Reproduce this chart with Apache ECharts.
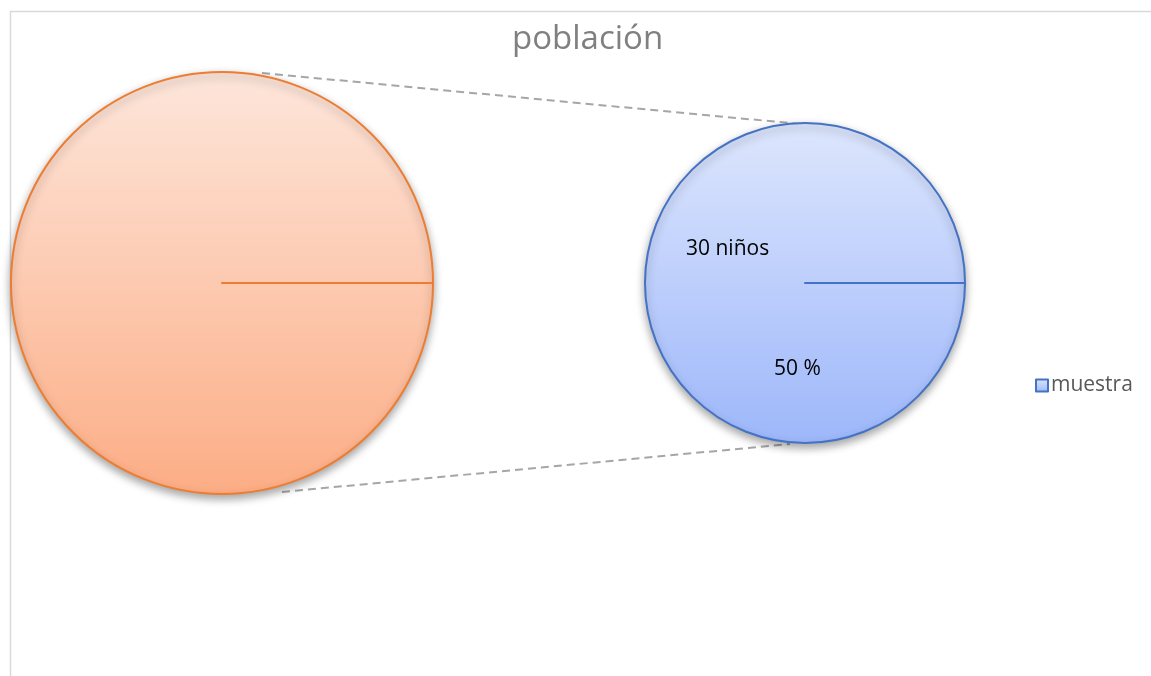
<!DOCTYPE html>
<html>
<head>
<meta charset="utf-8">
<script src="https://cdn.jsdelivr.net/npm/echarts@6/dist/echarts.min.js"></script>
<style>
html,body{margin:0;padding:0;background:#fff;}
#main{width:1151px;height:676px;}
</style>
</head>
<body>
<div id="main"></div>
<script>
// ---- data ----
const chartTitle = 'población';
const categories = ['muestra'];
const primaryNames = ['Otro', ''];
const primaryValues = [30, 0];
const secondaryNames = ['muestra', ''];
const secondaryValues = [30, 0];
const dataLabels = ['30 niños', '50 %'];

const chart = echarts.init(document.getElementById('main'), null, {renderer: 'canvas'});

const orangeFill = new echarts.graphic.LinearGradient(0, 0, 0, 1, [
  {offset: 0, color: '#fde6db'}, {offset: 1, color: '#fcad85'}
]);
const blueFill = new echarts.graphic.LinearGradient(0, 0, 0, 1, [
  {offset: 0, color: '#dde6fd'}, {offset: 1, color: '#9db7fa'}
]);

const shadow = {shadowBlur: 8, shadowOffsetY: 4, shadowColor: 'rgba(0,0,0,0.35)'};

const primaryData = primaryNames.map((n, i) => ({
  name: n, value: primaryValues[i],
  itemStyle: Object.assign({color: orangeFill, borderColor: '#ed7d31', borderWidth: 2}, i === 0 ? shadow : {})
}));
const secondaryData = secondaryNames.map((n, i) => ({
  name: n, value: secondaryValues[i],
  itemStyle: Object.assign({color: blueFill, borderColor: '#4472c4', borderWidth: 2}, i === 0 ? shadow : {})
}));

const dashStyle = {stroke: '#a6a6a6', lineWidth: 2, lineDash: [8, 5]};

chart.setOption({
  animation: false,
  backgroundColor: '#ffffff',
  title: {
    text: chartTitle, left: 507, top: 18,
    textStyle: {fontFamily: 'Open Sans', fontWeight: 'normal', fontSize: 33, color: '#808080'}
  },
  legend: {
    data: categories.map(c => ({name: c, itemStyle: {color: blueFill, borderColor: '#4472c4', borderWidth: 2}})),
    left: 1030, top: 370, icon: 'rect', itemWidth: 12, itemHeight: 12, itemGap: 4,
    textStyle: {fontFamily: 'Open Sans', fontSize: 21, color: '#595959', padding: [0, 0, 0, -2]},
    selectedMode: false
  },
  graphic: [
    {type: 'rect', shape: {x: 10.5, y: 11.5, width: 1200, height: 700}, style: {fill: 'none', stroke: '#d9d9d9', lineWidth: 1.5}, z: 0, silent: true},
    {type: 'line', shape: {x1: 262, y1: 73, x2: 800, y2: 124}, style: dashStyle, z: 1, silent: true},
    {type: 'line', shape: {x1: 282, y1: 492, x2: 790, y2: 444}, style: dashStyle, z: 1, silent: true},
    {type: 'text', left: 686, top: 239, style: {text: dataLabels[0], fontFamily: 'Open Sans', fontSize: 21, fill: '#000'}, z: 10, silent: true},
    {type: 'text', left: 774, top: 359, style: {text: dataLabels[1], fontFamily: 'Open Sans', fontSize: 21, fill: '#000'}, z: 10, silent: true}
  ],
  series: [
    {
      type: 'pie', name: 'primary', center: [222, 283], radius: 211, startAngle: 0, clockwise: true,
      minAngle: 0, silent: true, label: {show: false}, labelLine: {show: false},
      emphasis: {disabled: true}, data: primaryData, z: 3
    },
    {
      type: 'pie', name: 'secondary', center: [805, 283], radius: 160, startAngle: 0, clockwise: true,
      minAngle: 0, silent: true, label: {show: false}, labelLine: {show: false},
      emphasis: {disabled: true}, data: secondaryData, z: 3
    }
  ]
});
</script>
</body>
</html>
